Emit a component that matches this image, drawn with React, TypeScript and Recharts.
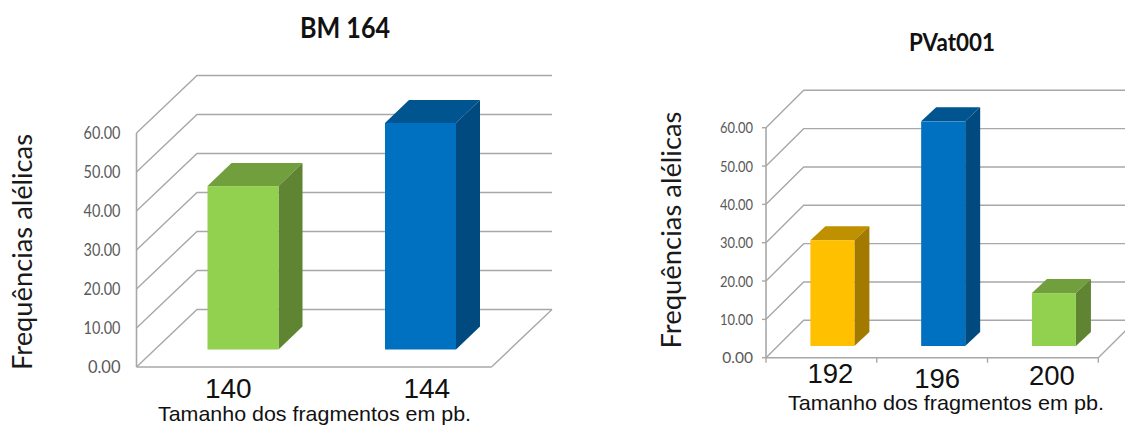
import React from "react";
import { Bar, BarChart, CartesianGrid, XAxis, YAxis } from "recharts";

const bm164Sizes = ["140", "144"];
const bm164Freqs = [41.9, 58.1];
const bm164Colors = ["green", "blue"];

const pvatSizes = ["192", "196", "200"];
const pvatFreqs = [27.6, 58.6, 13.8];
const pvatColors = ["orange", "blue", "green"];

const freqTicks = [0, 10, 20, 30, 40, 50, 60];

// front / top / side shades for the fake 3D boxes
const shades: Record<string, { front: string; top: string; side: string }> = {
  green: { front: "#92d050", top: "#719f3e", side: "#5f8533" },
  blue: { front: "#0070c0", top: "#005591", side: "#004a7f" },
  orange: { front: "#ffc000", top: "#bf9000", side: "#a27a00" },
};

const GRID = "#a8a8a8";

function Panel(props: any) {
  const { sizes, freqs, colors, cfg } = props;
  const data = sizes.map((size: string, i: number) => ({ size, freq: freqs[i] }));
  const { wallX, wallY, shiftX, shiftY, depthX, depthY } = cfg;

  // Each horizontal grid value becomes a side wall diagonal plus a back wall line.
  const gridLine = (p: any) => {
    const isFloor = p.index === 0 || p.y1 === cfg.height - cfg.margin.bottom - cfg.axisH;
    const n = sizes.length;
    const band = (p.x2 - p.x1) / n;
    return (
      <g key={p.key} stroke={GRID} strokeWidth={1.4} fill="none">
        <path d={`M${p.x1} ${p.y1}L${p.x1 + wallX} ${p.y1 - wallY}L${p.x2 + wallX} ${p.y1 - wallY}`} />
        {isFloor && <path d={`M${p.x2} ${p.y1}L${p.x2 + wallX} ${p.y1 - wallY}`} />}
        {isFloor && cfg.floorTicks &&
          Array.from({ length: n + 1 }, (_, i) => (
            <path key={i} d={`M${p.x1 + band * i} ${p.y1}v5`} />
          ))}
      </g>
    );
  };

  const box = (p: any) => {
    const c = shades[colors[p.index]];
    const x = p.x + shiftX;
    const y = p.y - shiftY;
    const r = x + p.width;
    const b = y + p.height;
    return (
      <g>
        <path fill={c.top} d={`M${x} ${y}L${x + depthX} ${y - depthY}H${r + depthX}L${r} ${y}Z`} />
        <path fill={c.side} d={`M${r} ${y}L${r + depthX} ${y - depthY}V${b - depthY}L${r} ${b}Z`} />
        <rect x={x} y={y} width={p.width} height={p.height} fill={c.front} />
      </g>
    );
  };

  const sizeTick = (p: any) => {
    const nudge = cfg.labelNudge[p.index];
    return (
      <text
        x={p.x + nudge[0]}
        y={p.y + nudge[1]}
        textAnchor="middle"
        fontFamily="Liberation Sans"
        fontSize={cfg.labelSize}
        fill="#111"
      >
        {p.payload.value}
      </text>
    );
  };

  // Lato squeezed a little, the tick numbers are narrow and tall
  const freqTick = (p: any) => {
    const label = p.payload.value.toFixed(2);
    return (
      <text
        x={p.x}
        y={p.y}
        dy="0.36em"
        textAnchor="end"
        fontFamily="Lato"
        fontSize={cfg.yTickFont}
        fill="#595959"
        textLength={label.length === 5 ? cfg.yTickLen : undefined}
        lengthAdjust="spacingAndGlyphs"
      >
        {label}
      </text>
    );
  };

  return (
    <div style={{ position: "absolute", left: cfg.left, top: 0 }}>
      <BarChart width={cfg.width} height={cfg.height} data={data} margin={cfg.margin}>
        <CartesianGrid vertical={false} horizontal={gridLine} />
        <XAxis
          dataKey="size"
          height={cfg.axisH}
          tickLine={false}
          tickSize={0}
          tickMargin={0}
          axisLine={{ stroke: GRID, strokeWidth: 1.6 }}
          tick={sizeTick}
        />
        <YAxis
          width={cfg.yAxisW}
          domain={[0, 60]}
          ticks={freqTicks}
          tickLine={cfg.yTickSize > 0 ? { stroke: GRID, strokeWidth: 1.4 } : false}
          tickSize={cfg.yTickSize}
          tickMargin={cfg.yTickGap}
          axisLine={{ stroke: GRID, strokeWidth: 1.6 }}
          tick={freqTick}
        />
        <Bar dataKey="freq" barSize={cfg.barW} shape={box} isAnimationActive={false} />
        <text
          x={cfg.titleX}
          y={cfg.titleY}
          textAnchor="middle"
          fontFamily="Lato"
          fontWeight={700}
          fontSize={cfg.titleSize}
          fill="#111"
          textLength={cfg.titleLen}
          lengthAdjust="spacingAndGlyphs"
        >
          {cfg.title}
        </text>
        <text
          transform={`translate(${cfg.yLabelX} ${cfg.yLabelY}) rotate(-90)`}
          textAnchor="middle"
          fontFamily="Lato"
          fontSize={cfg.yLabelSize}
          fill="#1a1a1a"
          textLength={cfg.yLabelLen}
          lengthAdjust="spacingAndGlyphs"
        >
          Frequências alélicas
        </text>
        <text
          x={cfg.xLabelX}
          y={cfg.xLabelY}
          textAnchor="middle"
          fontFamily="Liberation Sans"
          fontSize={cfg.xLabelSize}
          fill="#111"
          textLength={cfg.xLabelLen}
          lengthAdjust="spacingAndGlyphs"
        >
          Tamanho dos fragmentos em pb.
        </text>
      </BarChart>
    </div>
  );
}

const leftCfg = {
  left: 0,
  width: 600,
  height: 425,
  margin: { top: 133, right: 108.5, bottom: 28, left: 76.5 },
  axisH: 30,
  yAxisW: 60,
  yTickSize: 0,
  yTickGap: 16,
  yTickFont: 16.5,
  yTickLen: 37,
  barW: 71,
  wallX: 60.5,
  wallY: 57.5,
  shiftX: 18,
  shiftY: 17.5,
  depthX: 24,
  depthY: 23,
  floorTicks: false,
  labelNudge: [[3, 31], [24, 31]],
  labelSize: 28,
  title: "BM 164",
  titleX: 345,
  titleY: 38,
  titleSize: 29,
  titleLen: 90,
  yLabelX: 32,
  yLabelY: 252,
  yLabelSize: 27,
  yLabelLen: 236,
  xLabelX: 314.5,
  xLabelY: 421,
  xLabelSize: 21,
  xLabelLen: 313,
};

const rightCfg = {
  left: 600,
  width: 525,
  height: 425,
  margin: { top: 127.7, right: 26.7, bottom: 37.3, left: 106 },
  axisH: 30,
  yAxisW: 60,
  yTickSize: 4,
  yTickGap: 9,
  yTickFont: 15.5,
  yTickLen: 33,
  barW: 44,
  wallX: 37.7,
  wallY: 37.4,
  shiftX: 11.4,
  shiftY: 11.7,
  depthX: 15,
  depthY: 14,
  floorTicks: true,
  labelNudge: [[9, 25.3], [5, 30.3], [9, 27.3]],
  labelSize: 27.5,
  title: "PVat001",
  titleX: 352,
  titleY: 51,
  titleSize: 25,
  titleLen: 86,
  yLabelX: 81,
  yLabelY: 230,
  yLabelSize: 27,
  yLabelLen: 237,
  xLabelX: 346,
  xLabelY: 410,
  xLabelSize: 21,
  xLabelLen: 316,
};

export default function App() {
  return (
    <div style={{ position: "fixed", left: 0, top: 0, width: 1125, height: 425, overflow: "hidden", background: "#fff" }}>
      <Panel sizes={bm164Sizes} freqs={bm164Freqs} colors={bm164Colors} cfg={leftCfg} />
      <Panel sizes={pvatSizes} freqs={pvatFreqs} colors={pvatColors} cfg={rightCfg} />
    </div>
  );
}
